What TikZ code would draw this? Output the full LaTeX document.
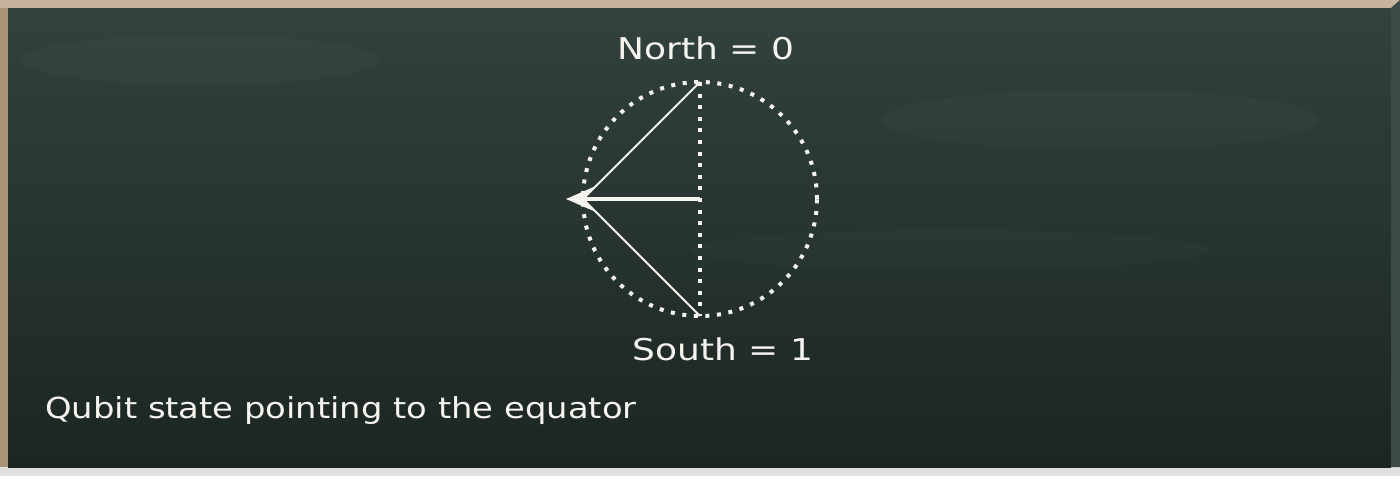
\documentclass[tikz,border=0pt]{standalone}
\usepackage{fontspec}
\setmainfont{DejaVu Sans}
\usetikzlibrary{arrows.meta}
\definecolor{boardtop}{RGB}{50,66,61}
\definecolor{boardbot}{RGB}{28,37,34}
\definecolor{framebrown}{RGB}{198,180,156}
\definecolor{framedark}{RGB}{170,146,116}
\definecolor{bevel}{RGB}{58,74,70}
\definecolor{chalk}{RGB}{246,244,238}
\tikzset{
  chalktext/.style={text=chalk, inner sep=0pt, font=\fontsize{30}{36}\selectfont},
  dotline/.style={draw=chalk, line width=4pt, dash pattern=on 4pt off 7.6pt},
  thinline/.style={draw=chalk, line width=1.8pt},
  statearrow/.style={draw=chalk, line width=4pt, -{Stealth[length=30pt,width=26pt,inset=15pt]}}
}
\begin{document}
\begin{tikzpicture}[x=1pt,y=-1pt]
\useasboundingbox (0,0) rectangle (1400,481);
% page / frame
\fill[white] (0,0) rectangle (1400,481);
\fill[black!12] (0,467) rectangle (1400,476);
\shade[top color=boardtop, bottom color=boardbot] (8,8) rectangle (1391,467);
\fill[framebrown] (0,0) rectangle (1400,8);
\fill[framedark] (0,8) rectangle (8,467);
\fill[bevel] (1391,8) -- (1400,0) -- (1400,467) -- (1391,467) -- cycle;
% subtle smudges
\fill[white,opacity=0.018] (200,60) ellipse (180pt and 25pt);
\fill[white,opacity=0.018] (1100,120) ellipse (220pt and 30pt);
\fill[white,opacity=0.015] (950,250) ellipse (260pt and 20pt);
% geometry
\coordinate (C) at (700,199);
\coordinate (N) at (700,82);
\coordinate (S) at (700,316);
\coordinate (E) at (583,199);
\coordinate (T) at (566,199);
\draw[dotline] (C) circle (117pt);
\draw[dotline] (N) -- (S);
\draw[thinline] (N) -- (E) -- (S);
\draw[statearrow] (C) -- (T);
% texts
\node[chalktext, anchor=base, xscale=1.2] (north) at (706,60) {North = 0};
\node[chalktext, anchor=base, xscale=1.2] (south) at (723,360) {South = 1};
\node[chalktext, anchor=base west, font=\fontsize{29}{34}\selectfont, xscale=1.165] (caption) at (45,418) {Qubit state pointing to the equator};
\end{tikzpicture}
\end{document}
